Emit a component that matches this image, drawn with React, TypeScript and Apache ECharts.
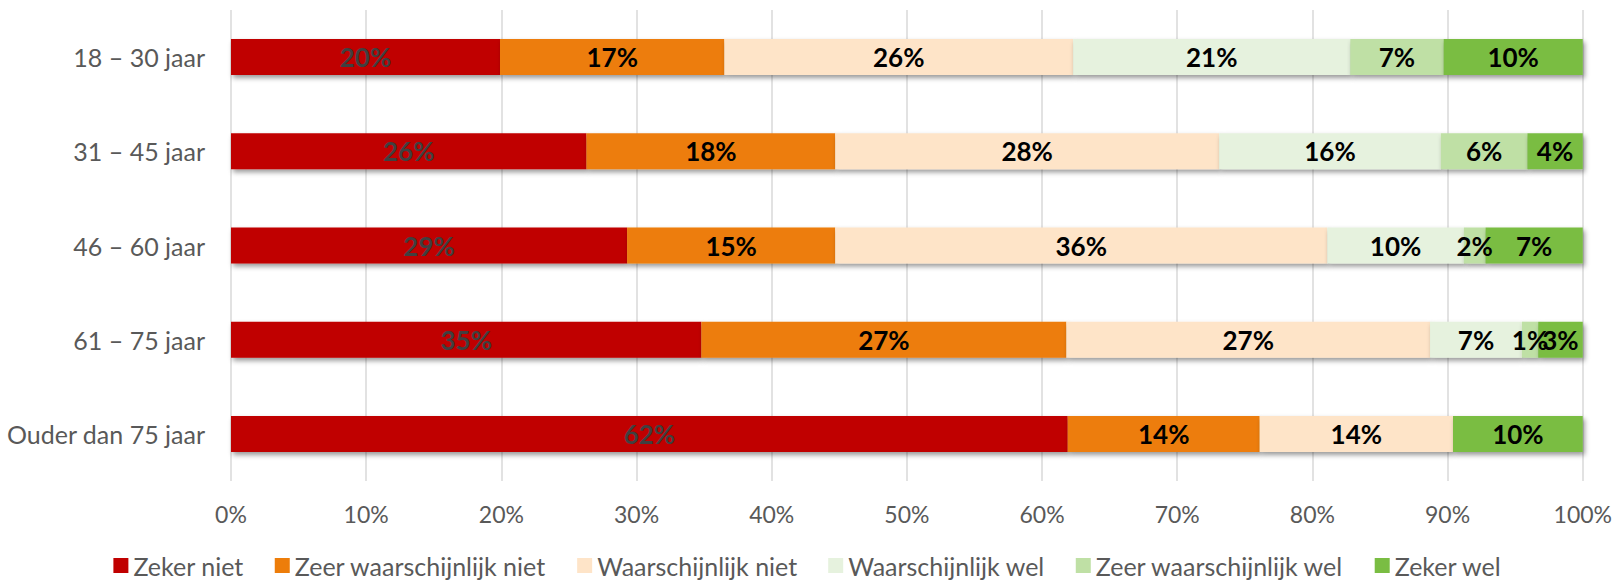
import React, { useEffect, useRef } from "react";
import * as echarts from "echarts";

const categories = ["18 – 30 jaar", "31 – 45 jaar", "46 – 60 jaar", "61 – 75 jaar", "Ouder dan 75 jaar"];
const seriesNames = [
  "Zeker niet",
  "Zeer waarschijnlijk niet",
  "Waarschijnlijk niet",
  "Waarschijnlijk wel",
  "Zeer waarschijnlijk wel",
  "Zeker wel",
];
const zekerNiet = [19.9, 26.3, 29.3, 34.8, 61.9];
const zeerWaarschijnlijkNiet = [16.6, 18.4, 15.4, 27.0, 14.2];
const waarschijnlijkNiet = [25.8, 28.4, 36.4, 26.9, 14.3];
const waarschijnlijkWel = [20.5, 16.4, 10.1, 6.8, 0];
const zeerWaarschijnlijkWel = [6.9, 6.4, 1.6, 1.2, 0];
const zekerWel = [10.3, 4.1, 7.2, 3.3, 9.6];
const colors = ["#C00000", "#ED7D0A", "#FEE4C8", "#E6F2DE", "#BFE0A5", "#7ABD43"];
const xTicks = [0, 10, 20, 30, 40, 50, 60, 70, 80, 90, 100];

const allValues = [zekerNiet, zeerWaarschijnlijkNiet, waarschijnlijkNiet, waarschijnlijkWel, zeerWaarschijnlijkWel, zekerWel];

const FONT = "Lato";

export default function App() {
  const ref = useRef<HTMLDivElement>(null);
  useEffect(() => {
    document.body.style.margin = "0";
    const chart = echarts.init(ref.current!, null, { renderer: "svg" });
    chart.setOption({
      animation: false,
      textStyle: { fontFamily: FONT },
      grid: { left: 231, right: 32, top: 10, bottom: 102, containLabel: false },
      xAxis: {
        type: "value",
        min: xTicks[0],
        max: xTicks[xTicks.length - 1],
        interval: 10,
        axisLabel: { formatter: "{value}%", color: "#595959", fontSize: 23, fontFamily: FONT, margin: 21 },
        splitLine: { show: true, lineStyle: { color: "#D9D9D9", width: 1.5 } },
        axisLine: { show: false },
        axisTick: { show: false },
      },
      yAxis: {
        type: "category",
        inverse: true,
        data: categories,
        axisLabel: { color: "#595959", fontSize: 25, fontFamily: FONT, margin: 26 },
        axisLine: { show: false },
        axisTick: { show: false },
      },
      legend: {
        bottom: 0,
        left: "center",
        itemWidth: 15,
        itemHeight: 15,
        itemGap: 31,
        icon: "rect",
        textStyle: { color: "#595959", fontSize: 25, fontFamily: FONT, padding: [0, 0, 0, 0] },
        data: seriesNames,
      },
      series: seriesNames.map((name, i) => ({
        name,
        type: "bar",
        stack: "total",
        barWidth: 36,
        data: allValues[i],
        itemStyle: {
          color: colors[i],
          shadowColor: "rgba(0,0,0,0.4)",
          shadowBlur: 5,
          shadowOffsetX: 2,
          shadowOffsetY: 3,
        },
        label: {
          show: true,
          position: "inside",
          fontFamily: FONT,
          fontSize: 26,
          fontWeight: "bold",
          color: i === 0 ? "#404040" : "#000000",
          formatter: (p: any) => (p.value > 0 ? Math.round(p.value) + "%" : ""),
        },
      })),
    });
    return () => chart.dispose();
  }, []);
  return <div ref={ref} style={{ width: 1615, height: 583 }} />;
}
